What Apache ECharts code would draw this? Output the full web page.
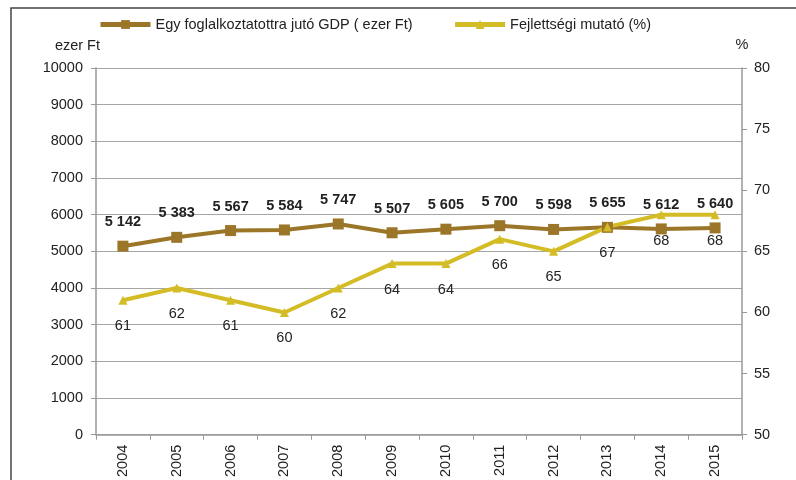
<!DOCTYPE html>
<html><head><meta charset="utf-8">
<script src="https://cdn.jsdelivr.net/npm/echarts@6/dist/echarts.min.js"></script>
<style>html,body{margin:0;padding:0;background:#fff}#c{width:796px;height:480px}</style>
</head><body><div id="c"></div>
<script>
const years = ['2004','2005','2006','2007','2008','2009','2010','2011','2012','2013','2014','2015'];
const gdpName = 'Egy foglalkoztatottra jutó GDP ( ezer Ft)';
const gdp = [5142,5383,5567,5584,5747,5507,5605,5700,5598,5655,5612,5640];
const devName = 'Fejlettségi mutató (%)';
const dev = [61,62,61,60,62,64,64,66,65,67,68,68];
const leftTicks = {min:0, max:10000, interval:1000};
const rightTicks = {min:50, max:80, interval:5};

const font = 'Liberation Sans, Arial, sans-serif';
const fs = 14.5;
const chart = echarts.init(document.getElementById('c'));
const axisGray = '#999999';
chart.setOption({
  animation:false,
  textStyle:{fontFamily:font},
  legend:{
    left:93, top:12, itemWidth:50, itemHeight:11, itemGap:40,
    lineStyle:{width:5},
    textStyle:{fontSize:fs, color:'#222', fontFamily:font},
    data:[gdpName, devName]
  },
  grid:{left:96, right:54, top:68, bottom:43, containLabel:false},
  graphic:[
    {type:'polyline', shape:{points:[[11,480],[11,8],[796,8]]}, style:{stroke:'#444', lineWidth:1.5, fill:null}},
    {type:'text', right:796-100, top:38, style:{text:'ezer Ft', fontSize:fs, fill:'#222', fontFamily:font}}
  ],
  xAxis:{
    type:'category', data:years, boundaryGap:true,
    axisLine:{lineStyle:{color:axisGray, width:1.5}},
    axisTick:{show:true, alignWithLabel:false, length:5, lineStyle:{color:axisGray}},
    axisLabel:{rotate:90, margin:10, fontSize:fs, color:'#222', fontFamily:font}
  },
  yAxis:[
    {type:'value', min:leftTicks.min, max:leftTicks.max, interval:leftTicks.interval,
     axisLine:{show:true, lineStyle:{color:axisGray, width:1.5}},
     axisTick:{show:true, length:5, lineStyle:{color:axisGray}},
     axisLabel:{margin:13, fontSize:fs, color:'#222', fontFamily:font, formatter:v=>String(v)},
     splitLine:{show:true, lineStyle:{color:'#a6a6a6', width:1.2}}},
    {type:'value', min:rightTicks.min, max:rightTicks.max, interval:rightTicks.interval, position:'right',
     name:'%', nameLocation:'end', nameGap:16, nameTextStyle:{fontSize:fs, color:'#222', fontFamily:font, align:'center'},
     axisLine:{show:true, lineStyle:{color:axisGray, width:1.5}},
     axisTick:{show:true, length:5, lineStyle:{color:axisGray}},
     axisLabel:{margin:12, fontSize:fs, color:'#222', fontFamily:font, formatter:v=>String(v)},
     splitLine:{show:false}}
  ],
  series:[
    {name:gdpName, type:'line', yAxisIndex:0, data:gdp,
     symbol:'rect', symbolSize:11,
     lineStyle:{color:'#9B7528', width:4}, itemStyle:{color:'#9B7528'},
     label:{show:true, position:'top', distance:11, fontSize:fs, fontWeight:'bold', color:'#222', fontFamily:font,
       formatter:p=>{const s=String(p.value); return s.slice(0,s.length-3)+' '+s.slice(-3);}}},
    {name:devName, type:'line', yAxisIndex:1, data:dev,
     symbol:'triangle', symbolSize:9,
     lineStyle:{color:'#D4BC26', width:4}, itemStyle:{color:'#D4BC26'},
     label:{show:true, position:'bottom', distance:14, fontSize:fs, color:'#222', fontFamily:font}}
  ]
});
</script></body></html>
